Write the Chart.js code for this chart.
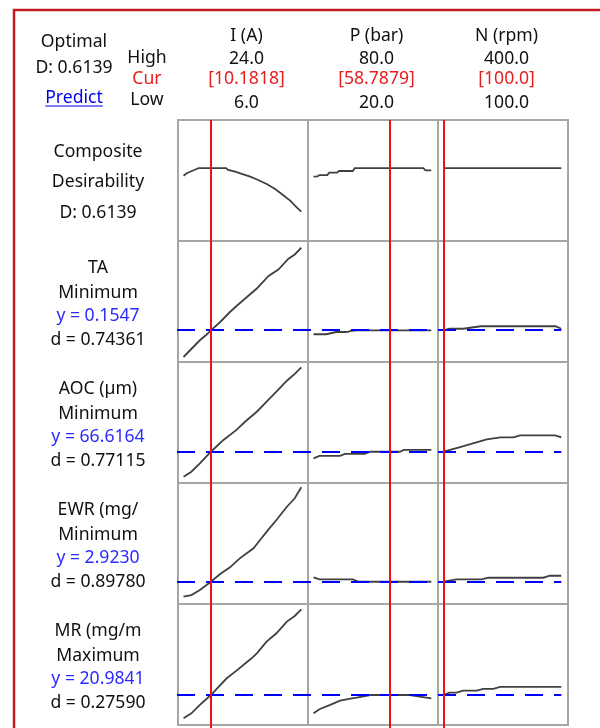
<!DOCTYPE html>
<html>
<head>
<meta charset="utf-8">
<script src="https://cdn.jsdelivr.net/npm/chart.js@4.4.0/dist/chart.umd.min.js"></script>
<style>
  html, body { margin: 0; padding: 0; background: #fff; }
  #wrap { position: relative; width: 600px; height: 728px; }
</style>
</head>
<body>
<div id="wrap"><canvas id="optChart" width="600" height="728"></canvas></div>
<script>
// factors (one column each)
var factorNames = ["I (A)", "P (bar)", "N (rpm)"];
var highVals = [24, 80, 400];
var lowVals = [6, 20, 100];
var curVals = [10.1818, 58.7879, 100];
var highLabels = ["24.0", "80.0", "400.0"];
var lowLabels = ["6.0", "20.0", "100.0"];
var curLabels = ["[10.1818]", "[58.7879]", "[100.0]"];

// responses (one row each, after the composite row)
var responseNames = ["TA", "AOC (\u00b5m)", "EWR (mg/", "MR (mg/m"];
var goals = ["Minimum", "Minimum", "Minimum", "Maximum"];
var predicted = [0.1547, 66.6164, 2.9230, 20.9841];
var dValues = ["0.74361", "0.77115", "0.89780", "0.27590"];
var compositeD = 0.6139;

// composite desirability vs I, P, N
var compI = [[6,0.550],[6.5,0.571],[7,0.584],[8,0.607],[8.3,0.6139],[12.5,0.6139],[12.8,0.599],[13.9,0.584],[14.9,0.565],[16.2,0.542],[17.4,0.514],[18.7,0.480],[20,0.438],[21.2,0.388],[22.3,0.340],[23.3,0.284],[24,0.247]];
var compP = [[20,0.542],[22,0.545],[23,0.556],[27,0.556],[28,0.576],[32,0.576],[33,0.590],[40,0.590],[41,0.6139],[76,0.6139],[77,0.596],[80,0.596]];
var compN = [[100,0.6139],[250,0.6139],[400,0.6139]];

// TA
var taI = [[6,0.048],[7,0.075],[8.5,0.115],[9.5,0.137],[10.18,0.1547],[11.6,0.188],[13.1,0.228],[14.1,0.252],[15.7,0.288],[17.2,0.322],[19,0.372],[20.5,0.398],[22,0.44],[23,0.458],[24,0.485]];
var taP = [[20,0.139],[26.5,0.139],[31.5,0.148],[37,0.148],[39.5,0.153],[42,0.1547],[80,0.1547]];
var taN = [[100,0.1547],[115,0.161],[150,0.161],[195,0.171],[385,0.171],[400,0.161]];

// AOC
var aocI = [[6,54.1],[7.2,56.6],[8.5,60.8],[10.18,66.6],[12.1,72.5],[14.1,77.5],[15.4,81.6],[17.2,86.6],[18.7,91.6],[20.2,96.6],[21.8,102.1],[23,105.5],[24,108.8]];
var aocP = [[20,63.3],[23,64.5],[33.5,64.5],[36,65.5],[46,65.5],[49,66.6],[64,66.6],[66,67.5],[80,67.5]];
var aocN = [[100,66.6],[140,68.8],[210,72.8],[245,73.8],[278,73.8],[295,74.8],[385,74.8],[400,73.8]];

// EWR
var ewrI = [[6,1.42],[7.2,1.59],[8.5,2.09],[10.18,2.92],[11.6,3.69],[13.1,4.36],[14.6,5.26],[16.7,6.26],[17.7,7.09],[19,8.16],[20.2,9.09],[21.8,10.42],[23,11.26],[24,12.36]];
var ewrP = [[20,3.36],[23,3.16],[40,3.16],[43,2.92],[80,2.92]];
var ewrN = [[100,2.92],[133,3.16],[197,3.16],[214,3.32],[354,3.32],[371,3.52],[400,3.52]];

// MR
var mrI = [[6,14.0],[7.2,15.5],[8.5,18.0],[10.18,20.98],[12.6,26.0],[14.1,28.3],[16.4,32.0],[17.2,33.5],[18.7,37.0],[20.2,39.5],[21.8,43.0],[23,44.7],[24,46.7]];
var mrP = [[20,15.5],[23,16.7],[28.5,18.0],[33.5,19.3],[39.5,20.0],[42,20.2],[49,20.98],[69,20.98],[74,20.5],[80,20.0]];
var mrN = [[100,20.98],[115,21.7],[133,21.7],[150,22.3],[185,22.3],[201,22.8],[227,22.8],[244,23.4],[400,23.4]];

var curves = [
    [compI, compP, compN],
    [taI, taP, taN],
    [aocI, aocP, aocN],
    [ewrI, ewrP, ewrN],
    [mrI, mrP, mrN]
];

// y range shown in each row
var rowMin = [0, 0.028, 50.97, 0.693, 11.984];
var rowMax = [1.02, 0.512, 111.47, 12.793, 48.284];

var datasets = [];
for (var r = 0; r < curves.length; r++) {
    for (var c = 0; c < 3; c++) {
        datasets.push({
            data: curves[r][c].map(function (p) { return {x: p[0], y: p[1]}; }),
            xAxisID: 'x' + c,
            yAxisID: 'y' + r,
            borderColor: '#404040',
            borderWidth: 1.8,
            pointRadius: 0,
            tension: 0,
            fill: false
        });
    }
}

var scales = {};
for (var c = 0; c < 3; c++) {
    var span = highVals[c] - lowVals[c];
    scales['x' + c] = {
        type: 'linear', axis: 'x', position: 'bottom', stack: 'cols', stackWeight: 1, weight: c,
        display: false, min: lowVals[c] - 0.047 * span, max: highVals[c] + 0.057 * span
    };
}
for (var r = 0; r < 5; r++) {
    scales['y' + r] = {
        type: 'linear', axis: 'y', position: 'right', stack: 'rows', stackWeight: 1, weight: r,
        display: false, min: rowMin[r], max: rowMax[r]
    };
}

var FONT = '17.6px "Noto Sans", "Open Sans", sans-serif';

function text(ctx, str, x, y, color) {
    ctx.fillStyle = color || '#111';
    ctx.fillText(str, x, y);
}

var optimizerPlugin = {
    id: 'optimizer',
    beforeDatasetsDraw: function (chart) {
        var ctx = chart.ctx;
        ctx.save();
        ctx.strokeStyle = '#a6a6a6';
        ctx.lineWidth = 2;
        for (var r = 0; r < 5; r++) {
            var ys = chart.scales['y' + r];
            for (var c = 0; c < 3; c++) {
                var xs = chart.scales['x' + c];
                ctx.strokeRect(xs.left, ys.top, xs.right - xs.left, ys.bottom - ys.top);
            }
        }
        ctx.restore();
    },
    afterDatasetsDraw: function (chart) {
        var ctx = chart.ctx;
        var area = chart.chartArea;
        ctx.save();
        // target lines for each response
        ctx.strokeStyle = '#0000ff';
        ctx.lineWidth = 2;
        ctx.setLineDash([18, 11]);
        var xEnd = chart.scales.x2.getPixelForValue(highVals[2]);
        for (var r = 1; r < 5; r++) {
            var y = Math.round(chart.scales['y' + r].getPixelForValue(predicted[r - 1]));
            ctx.beginPath();
            ctx.moveTo(area.left - 1, y);
            ctx.lineTo(xEnd, y);
            ctx.stroke();
        }
        // current factor settings
        ctx.setLineDash([]);
        ctx.strokeStyle = '#ee1111';
        for (var c = 0; c < 3; c++) {
            var x = Math.round(chart.scales['x' + c].getPixelForValue(curVals[c]));
            ctx.beginPath();
            ctx.moveTo(x, area.top);
            ctx.lineTo(x, chart.height);
            ctx.stroke();
        }
        ctx.restore();
    },
    afterDraw: function (chart) {
        var ctx = chart.ctx;
        ctx.save();
        // outer frame
        ctx.strokeStyle = '#c41a1f';
        ctx.lineWidth = 2.5;
        ctx.beginPath();
        ctx.moveTo(14, chart.height);
        ctx.lineTo(14, 10);
        ctx.lineTo(chart.width, 10);
        ctx.stroke();

        ctx.font = FONT;
        ctx.textAlign = 'center';
        ctx.textBaseline = 'alphabetic';

        text(ctx, 'Optimal', 74, 47);
        text(ctx, 'D: ' + compositeD.toFixed(4), 74, 73);
        text(ctx, 'Predict', 74, 103, '#0000ee');
        var w = ctx.measureText('Predict').width;
        ctx.strokeStyle = '#0000ee';
        ctx.lineWidth = 1.2;
        ctx.beginPath();
        ctx.moveTo(74 - w / 2, 106);
        ctx.lineTo(74 + w / 2, 106);
        ctx.stroke();

        text(ctx, 'High', 147, 63);
        text(ctx, 'Cur', 147, 84, '#e61e1e');
        text(ctx, 'Low', 147, 105);

        for (var c = 0; c < 3; c++) {
            var xs = chart.scales['x' + c];
            var cx = (xs.left + xs.right) / 2 + 3.5;
            text(ctx, factorNames[c], cx, 41);
            text(ctx, highLabels[c], cx, 64);
            text(ctx, curLabels[c], cx, 84, '#e61e1e');
            text(ctx, lowLabels[c], cx, 108);
        }

        var top0 = chart.scales.y0.top;
        text(ctx, 'Composite', 98, top0 + 37);
        text(ctx, 'Desirability', 98, top0 + 67);
        text(ctx, 'D: ' + compositeD.toFixed(4), 98, top0 + 98);

        for (var r = 1; r < 5; r++) {
            var t = chart.scales['y' + r].top;
            text(ctx, responseNames[r - 1], 98, t + 32);
            text(ctx, goals[r - 1], 98, t + 57);
            text(ctx, 'y = ' + predicted[r - 1].toFixed(4), 98, t + 80, '#2b2bff');
            text(ctx, 'd = ' + dValues[r - 1], 98, t + 104);
        }
        ctx.restore();
    }
};

var ctx = document.getElementById('optChart').getContext('2d');
var optChart = new Chart(ctx, {
    type: 'line',
    data: { datasets: datasets },
    options: {
        responsive: false,
        animation: false,
        events: [],
        layout: { padding: { left: 178, top: 120, right: 32, bottom: 3 } },
        scales: scales,
        plugins: { legend: { display: false }, tooltip: { enabled: false } }
    },
    plugins: [optimizerPlugin]
});
</script>
</body>
</html>
